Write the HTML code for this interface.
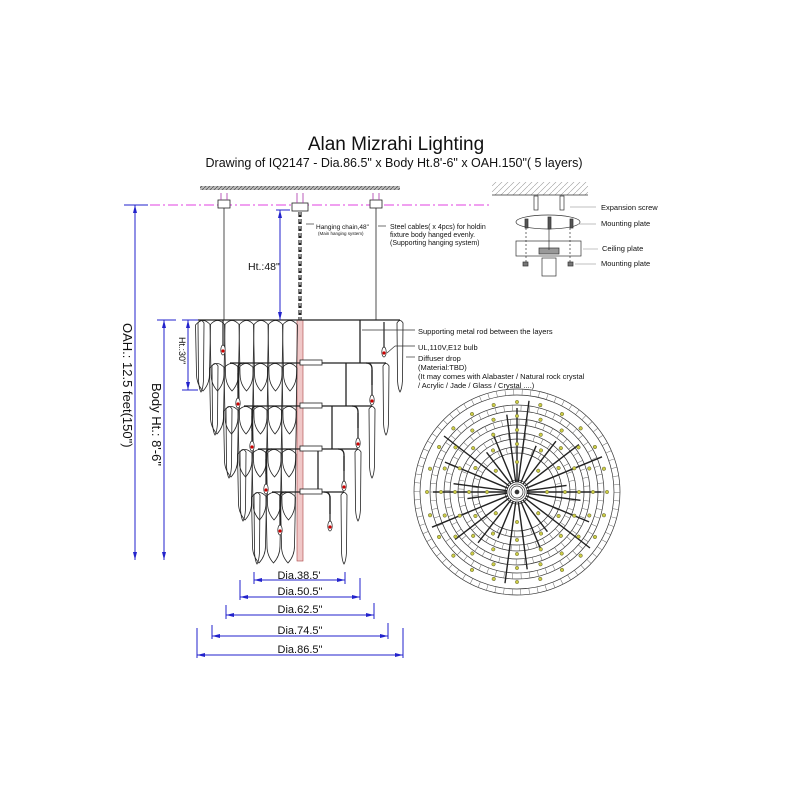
<!DOCTYPE html>
<html><head><meta charset="utf-8"><style>
html,body{margin:0;padding:0;background:#fff;width:800px;height:800px;overflow:hidden}
svg{display:block;font-family:"Liberation Sans",sans-serif}
</style></head><body>
<svg width="800" height="800" viewBox="0 0 800 800" xmlns="http://www.w3.org/2000/svg">
<defs>
<pattern id="h" width="4" height="4" patternUnits="userSpaceOnUse"><rect width="4" height="4" fill="#bbb"/><path d="M0 4L4 0" stroke="#555" stroke-width="0.8"/></pattern>
<pattern id="h2" width="6" height="6" patternUnits="userSpaceOnUse"><path d="M0 6L6 0" stroke="#999" stroke-width="0.6"/></pattern>
<path id="d" d="M-7.5 5 Q0 -4 7.5 5 L6.5 54 Q6.5 64 0 71 Q-6.5 64 -6.5 54 Z" fill="none" stroke="#222" stroke-width="0.8"/>
<path id="t" d="M-3 3 Q0 -2 3 3 L2.5 60 Q2 69 0 72 Q-2 69 -2.5 60 Z" fill="none" stroke="#222" stroke-width="0.8"/>
<g id="b"><line x1="0" y1="-30" x2="0" y2="-4" stroke="#222" stroke-width="1.2"/><ellipse cx="0" cy="0" rx="2.2" ry="5" fill="#fff" stroke="#222" stroke-width="0.7"/><circle cx="0" cy="1" r="1.6" fill="#c00"/></g>
<circle id="y" r="1.7" fill="#cc4" stroke="#663" stroke-width="0.5"/>
</defs>
<text x="396" y="150" font-size="19" text-anchor="middle" fill="#111">Alan Mizrahi Lighting</text>
<text x="394" y="167" font-size="12.5" text-anchor="middle" fill="#111">Drawing of IQ2147 - Dia.86.5" x Body Ht.8'-6" x OAH.150"( 5 layers)</text>
<rect x="200" y="186" width="200" height="4" fill="url(#h)"/>
<line x1="150" y1="205" x2="492" y2="205" stroke="#e040e0" stroke-width="1" stroke-dasharray="10,3,2,3"/>

<g fill="none" stroke="#222" stroke-width="0.8">
<rect x="297" y="320" width="6" height="241" fill="#f0c8c8" stroke="#a44" stroke-width="0.6"/>
<rect x="218" y="200" width="12" height="8" fill="#fff"/><rect x="370" y="200" width="12" height="8" fill="#fff"/><rect x="292" y="203" width="16" height="8" fill="#fff"/>
<g stroke="#a3a"><line x1="221" y1="193" x2="221" y2="200"/><line x1="227" y1="193" x2="227" y2="200"/><line x1="373" y1="193" x2="373" y2="200"/><line x1="379" y1="193" x2="379" y2="200"/><line x1="297" y1="193" x2="297" y2="203"/><line x1="303" y1="193" x2="303" y2="203"/></g>
<line x1="224" y1="208" x2="224" y2="320"/><line x1="376" y1="208" x2="376" y2="320"/>
<line x1="300" y1="212" x2="300" y2="320" stroke-width="3.2" stroke-dasharray="5,2"/>
<line x1="300" y1="212" x2="300" y2="320" stroke="#fff" stroke-width="1" stroke-dasharray="3,4"/>

<g transform="translate(0,320)"><use href="#d" x="203"/><use href="#d" x="217.5"/><use href="#d" x="232"/><use href="#d" x="246.5"/><use href="#d" x="261"/><use href="#d" x="275.5"/><use href="#d" x="290"/><use href="#t" x="201"/><use href="#t" x="400"/></g>
<g transform="translate(0,363)"><use href="#d" x="217"/><use href="#d" x="231.5"/><use href="#d" x="246"/><use href="#d" x="260.5"/><use href="#d" x="275"/><use href="#d" x="289.5"/><use href="#t" x="215"/><use href="#t" x="386"/></g>
<g transform="translate(0,406)"><use href="#d" x="231"/><use href="#d" x="245.5"/><use href="#d" x="260"/><use href="#d" x="274.5"/><use href="#d" x="289"/><use href="#t" x="229"/><use href="#t" x="372"/></g>
<g transform="translate(0,449)"><use href="#d" x="245"/><use href="#d" x="259.5"/><use href="#d" x="274"/><use href="#d" x="288.5"/><use href="#t" x="243"/><use href="#t" x="358"/></g>
<g transform="translate(0,492)"><use href="#d" x="259"/><use href="#d" x="273.5"/><use href="#d" x="288"/><use href="#t" x="257"/><use href="#t" x="344"/></g>

<g stroke-width="1.3">
<line x1="198" y1="320" x2="400" y2="320"/><line x1="360" y1="320" x2="360" y2="363"/>
<line x1="230" y1="363" x2="386" y2="363"/><line x1="346" y1="363" x2="346" y2="406"/>
<line x1="244" y1="406" x2="372" y2="406"/><line x1="332" y1="406" x2="332" y2="449"/>
<line x1="258" y1="449" x2="358" y2="449"/><line x1="318" y1="449" x2="318" y2="492"/>
<line x1="272" y1="492" x2="344" y2="492"/>
<path d="M238 388 L238 367 Q238 363 244 363"/><path d="M252 431 L252 410 Q252 406 258 406"/><path d="M266 474 L266 453 Q266 449 272 449"/><path d="M280 517 L280 496 Q280 492 286 492"/>
<path d="M366 363 Q372 363 372 369 L372 385"/><path d="M352 406 Q358 406 358 412 L358 428"/><path d="M338 449 Q344 449 344 455 L344 471"/><path d="M324 492 Q330 492 330 498 L330 514"/>
</g>
<g fill="#fff"><rect x="300" y="360" width="22" height="5"/><rect x="300" y="403" width="22" height="5"/><rect x="300" y="446" width="22" height="5"/><rect x="300" y="489" width="22" height="5"/></g>
</g>
<use href="#b" x="223" y="350"/><use href="#b" x="384" y="352"/>
<use href="#b" x="238" y="403"/><use href="#b" x="372" y="400"/>
<use href="#b" x="252" y="446"/><use href="#b" x="358" y="443"/>
<use href="#b" x="266" y="489"/><use href="#b" x="344" y="486"/>
<use href="#b" x="280" y="530"/><use href="#b" x="330" y="526"/>

<g stroke="#2222cc" stroke-width="1" fill="none">
<line x1="135" y1="205" x2="135" y2="560"/><line x1="124" y1="205" x2="148" y2="205"/>
<line x1="164" y1="320" x2="164" y2="560"/><line x1="157" y1="320" x2="176" y2="320"/>
<line x1="188" y1="320" x2="188" y2="390"/><line x1="182" y1="320" x2="198" y2="320"/><line x1="182" y1="390" x2="198" y2="390"/>
<line x1="280" y1="210" x2="280" y2="320"/><line x1="276" y1="210" x2="290" y2="210"/>
<line x1="254" y1="572" x2="254" y2="584"/><line x1="345" y1="572" x2="345" y2="584"/><line x1="254" y1="580" x2="345" y2="580"/>
<line x1="240" y1="580" x2="240" y2="600"/><line x1="360" y1="578" x2="360" y2="600"/><line x1="240" y1="597" x2="360" y2="597"/>
<line x1="226" y1="605" x2="226" y2="619"/><line x1="374" y1="603" x2="374" y2="619"/><line x1="226" y1="615" x2="374" y2="615"/>
<line x1="212" y1="625" x2="212" y2="639"/><line x1="388" y1="623" x2="388" y2="639"/><line x1="212" y1="636" x2="388" y2="636"/>
<line x1="197" y1="628" x2="197" y2="658"/><line x1="403" y1="628" x2="403" y2="658"/><line x1="197" y1="655" x2="403" y2="655"/>
</g>
<g fill="#2222cc">
<path d="M135 205l-2 8h4z"/><path d="M135 560l-2 -8h4z"/><path d="M164 320l-2 8h4z"/><path d="M164 560l-2 -8h4z"/>
<path d="M280 320l-2 -8h4z"/><path d="M280 210l-2 8h4z"/><path d="M188 320l-2 8h4z"/><path d="M188 390l-2 -8h4z"/>
<path d="M254 580l8 -2v4z"/><path d="M345 580l-8 -2v4z"/><path d="M240 597l8 -2v4z"/><path d="M360 597l-8 -2v4z"/>
<path d="M226 615l8 -2v4z"/><path d="M374 615l-8 -2v4z"/><path d="M212 636l8 -2v4z"/><path d="M388 636l-8 -2v4z"/>
<path d="M197 655l8 -2v4z"/><path d="M403 655l-8 -2v4z"/>
</g>
<g font-size="11" fill="#111">
<text x="299" y="579" text-anchor="middle">Dia.38.5'</text>
<text x="300" y="595" text-anchor="middle">Dia.50.5"</text>
<text x="300" y="613" text-anchor="middle">Dia.62.5"</text>
<text x="300" y="634" text-anchor="middle">Dia.74.5"</text>
<text x="300" y="653" text-anchor="middle">Dia.86.5"</text>
<text x="248" y="270" font-size="10.5">Ht.:48"</text>
<text transform="translate(123,323) rotate(90)" font-size="13">OAH.: 12.5 feet(150")</text>
<text transform="translate(152,383) rotate(90)" font-size="13">Body Ht.: 8'-6"</text>
<text transform="translate(179,337) rotate(90)" font-size="9">Ht.:30"</text>
<text x="316" y="229" font-size="6.5">Hanging chain,48"</text>
<text x="318" y="235" font-size="4.5">(Main hanging system)</text>
<text x="390" y="229" font-size="7">Steel cables( x 4pcs) for holdin</text>
<text x="390" y="237" font-size="7">fixture body hanged evenly.</text>
<text x="390" y="245" font-size="7">(Supporting hanging system)</text>
<text x="418" y="334" font-size="7.5">Supporting metal rod between the layers</text>
<text x="418" y="350" font-size="7.5">UL,110V,E12 bulb</text>
<text x="418" y="361" font-size="7.5">Diffuser drop</text>
<text x="418" y="370" font-size="7.5">(Material:TBD)</text>
<text x="418" y="379" font-size="7.5">(It may comes with Alabaster / Natural rock crystal</text>
<text x="418" y="388" font-size="7.5">/ Acrylic / Jade / Glass / Crystal ....)</text>
<text x="601" y="210" font-size="7.5">Expansion screw</text>
<text x="601" y="226" font-size="7.5">Mounting plate</text>
<text x="602" y="251" font-size="7.5">Ceiling plate</text>
<text x="601" y="266" font-size="7.5">Mounting plate</text>
</g>
<g stroke="#333" stroke-width="0.7" fill="none">
<line x1="306" y1="224" x2="314" y2="224"/><line x1="378" y1="226" x2="386" y2="226"/>
<line x1="362" y1="330" x2="415" y2="330"/><line x1="387" y1="353" x2="395" y2="346"/><line x1="395" y1="346" x2="415" y2="346"/>
<line x1="406" y1="357" x2="415" y2="357"/>
<rect x="492" y="182" width="96" height="13" fill="url(#h2)" stroke="none"/>
<line x1="492" y1="195" x2="588" y2="195"/>
<rect x="534" y="196" width="4" height="14"/><rect x="560" y="196" width="4" height="14"/>
<line x1="570" y1="207" x2="596" y2="207" stroke="#aaa"/>
<ellipse cx="548" cy="222" rx="32" ry="7"/>
<rect x="525" y="219" width="3" height="9" fill="#555"/><rect x="548" y="217" width="3" height="12" fill="#555"/><rect x="570" y="219" width="3" height="9" fill="#555"/>
<line x1="578" y1="224" x2="596" y2="224" stroke="#aaa"/>
<rect x="516" y="241" width="65" height="15"/>
<rect x="539" y="248" width="20" height="6" fill="#999"/>
<line x1="526" y1="228" x2="526" y2="262" stroke-dasharray="2,2"/><line x1="570" y1="228" x2="570" y2="262" stroke-dasharray="2,2"/>
<line x1="549" y1="229" x2="549" y2="250"/>
<line x1="583" y1="249" x2="598" y2="249" stroke="#aaa"/>
<rect x="523" y="262" width="5" height="4" fill="#777"/><rect x="568" y="262" width="5" height="4" fill="#777"/>
<rect x="542" y="258" width="14" height="18"/>
<line x1="575" y1="264" x2="596" y2="264" stroke="#aaa"/>
</g>

<g transform="translate(517,492)" fill="none" stroke="#333" stroke-width="0.7">
<circle r="103"/><circle r="97"/><circle r="100" stroke-width="6" stroke-dasharray="0.5,8" stroke="#666"/>
<circle r="87"/><circle r="81"/><circle r="84" stroke-width="6" stroke-dasharray="0.5,8" stroke="#666"/>
<circle r="73"/><circle r="67"/><circle r="70" stroke-width="6" stroke-dasharray="0.5,8" stroke="#666"/>
<circle r="59"/><circle r="53"/><circle r="56" stroke-width="6" stroke-dasharray="0.5,8" stroke="#666"/>
<circle r="45"/><circle r="39"/><circle r="42" stroke-width="6" stroke-dasharray="0.5,8" stroke="#666"/>
<circle r="12"/><circle r="10"/><circle r="8"/><circle r="6"/><circle r="2" fill="#333"/>
<g stroke="#222" stroke-width="1.4">
<line x1="10" x2="64" transform="rotate(7.5)"/><line x1="10" x2="78" transform="rotate(22.5)"/><line x1="10" x2="92" transform="rotate(37.5)"/><line x1="10" x2="50" transform="rotate(52.5)"/>
<line x1="10" x2="64" transform="rotate(67.5)"/><line x1="10" x2="78" transform="rotate(82.5)"/><line x1="10" x2="92" transform="rotate(97.5)"/><line x1="10" x2="50" transform="rotate(112.5)"/>
<line x1="10" x2="64" transform="rotate(127.5)"/><line x1="10" x2="78" transform="rotate(142.5)"/><line x1="10" x2="92" transform="rotate(157.5)"/><line x1="10" x2="50" transform="rotate(172.5)"/>
<line x1="10" x2="64" transform="rotate(187.5)"/><line x1="10" x2="78" transform="rotate(202.5)"/><line x1="10" x2="92" transform="rotate(217.5)"/><line x1="10" x2="50" transform="rotate(232.5)"/>
<line x1="10" x2="64" transform="rotate(247.5)"/><line x1="10" x2="78" transform="rotate(262.5)"/><line x1="10" x2="92" transform="rotate(277.5)"/><line x1="10" x2="50" transform="rotate(292.5)"/>
<line x1="10" x2="64" transform="rotate(307.5)"/><line x1="10" x2="78" transform="rotate(322.5)"/><line x1="10" x2="92" transform="rotate(337.5)"/><line x1="10" x2="50" transform="rotate(352.5)"/>
<line x1="10" x2="84" transform="rotate(180)"/><line x1="10" x2="84" transform="rotate(0)"/><line x1="10" x2="84" transform="rotate(270)"/>
</g>
<g>
<use href="#y" x="90"/><use href="#y" x="90" transform="rotate(15)"/><use href="#y" x="90" transform="rotate(30)"/><use href="#y" x="90" transform="rotate(45)"/><use href="#y" x="90" transform="rotate(60)"/><use href="#y" x="90" transform="rotate(75)"/><use href="#y" x="90" transform="rotate(90)"/><use href="#y" x="90" transform="rotate(105)"/><use href="#y" x="90" transform="rotate(120)"/><use href="#y" x="90" transform="rotate(135)"/><use href="#y" x="90" transform="rotate(150)"/><use href="#y" x="90" transform="rotate(165)"/><use href="#y" x="90" transform="rotate(180)"/><use href="#y" x="90" transform="rotate(195)"/><use href="#y" x="90" transform="rotate(210)"/><use href="#y" x="90" transform="rotate(225)"/><use href="#y" x="90" transform="rotate(240)"/><use href="#y" x="90" transform="rotate(255)"/><use href="#y" x="90" transform="rotate(270)"/><use href="#y" x="90" transform="rotate(285)"/><use href="#y" x="90" transform="rotate(300)"/><use href="#y" x="90" transform="rotate(315)"/><use href="#y" x="90" transform="rotate(330)"/><use href="#y" x="90" transform="rotate(345)"/>
<use href="#y" x="76"/><use href="#y" x="76" transform="rotate(18)"/><use href="#y" x="76" transform="rotate(36)"/><use href="#y" x="76" transform="rotate(54)"/><use href="#y" x="76" transform="rotate(72)"/><use href="#y" x="76" transform="rotate(90)"/><use href="#y" x="76" transform="rotate(108)"/><use href="#y" x="76" transform="rotate(126)"/><use href="#y" x="76" transform="rotate(144)"/><use href="#y" x="76" transform="rotate(162)"/><use href="#y" x="76" transform="rotate(180)"/><use href="#y" x="76" transform="rotate(198)"/><use href="#y" x="76" transform="rotate(216)"/><use href="#y" x="76" transform="rotate(234)"/><use href="#y" x="76" transform="rotate(252)"/><use href="#y" x="76" transform="rotate(270)"/><use href="#y" x="76" transform="rotate(288)"/><use href="#y" x="76" transform="rotate(306)"/><use href="#y" x="76" transform="rotate(324)"/><use href="#y" x="76" transform="rotate(342)"/>
<use href="#y" x="62"/><use href="#y" x="62" transform="rotate(22.5)"/><use href="#y" x="62" transform="rotate(45)"/><use href="#y" x="62" transform="rotate(67.5)"/><use href="#y" x="62" transform="rotate(90)"/><use href="#y" x="62" transform="rotate(112.5)"/><use href="#y" x="62" transform="rotate(135)"/><use href="#y" x="62" transform="rotate(157.5)"/><use href="#y" x="62" transform="rotate(180)"/><use href="#y" x="62" transform="rotate(202.5)"/><use href="#y" x="62" transform="rotate(225)"/><use href="#y" x="62" transform="rotate(247.5)"/><use href="#y" x="62" transform="rotate(270)"/><use href="#y" x="62" transform="rotate(292.5)"/><use href="#y" x="62" transform="rotate(315)"/><use href="#y" x="62" transform="rotate(337.5)"/>
<use href="#y" x="48"/><use href="#y" x="48" transform="rotate(30)"/><use href="#y" x="48" transform="rotate(60)"/><use href="#y" x="48" transform="rotate(90)"/><use href="#y" x="48" transform="rotate(120)"/><use href="#y" x="48" transform="rotate(150)"/><use href="#y" x="48" transform="rotate(180)"/><use href="#y" x="48" transform="rotate(210)"/><use href="#y" x="48" transform="rotate(240)"/><use href="#y" x="48" transform="rotate(270)"/><use href="#y" x="48" transform="rotate(300)"/><use href="#y" x="48" transform="rotate(330)"/>
<use href="#y" x="30"/><use href="#y" x="30" transform="rotate(45)"/><use href="#y" x="30" transform="rotate(90)"/><use href="#y" x="30" transform="rotate(135)"/><use href="#y" x="30" transform="rotate(180)"/><use href="#y" x="30" transform="rotate(225)"/><use href="#y" x="30" transform="rotate(270)"/><use href="#y" x="30" transform="rotate(315)"/>
</g>
</g>
</svg>
</body></html>
